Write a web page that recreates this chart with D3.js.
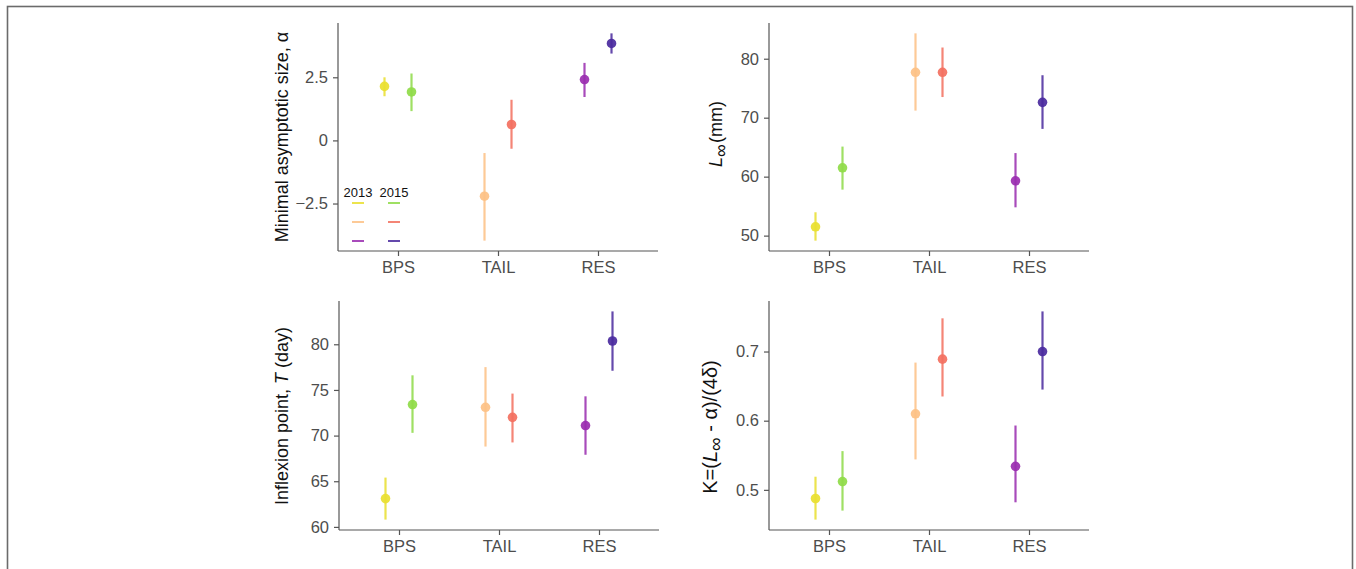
<!DOCTYPE html>
<html>
<head>
    <meta charset="utf-8">
    <title>Growth parameters by group and year</title>
    <style>
        body {
            margin: 0;
            background: #fff;
            font-family: "Liberation Sans", Arial, sans-serif;
            overflow: hidden;
        }
        .axis path, .axis line {
            stroke: #555;
            stroke-width: 1.2px;
        }
        .axis text {
            fill: #4d4d4d;
            font-size: 16.5px;
            font-family: "Liberation Sans", Arial, sans-serif;
        }
        .ylab {
            font-size: 18px;
            fill: #111;
        }
    </style>
</head>
<body>
    <script src="https://d3js.org/d3.v7.min.js"></script>
    <script>
        var width = 1356;
        var height = 569;

        // Groups on the x axis and the two sampling years
        var categories = ["BPS", "TAIL", "RES"];
        var years = ["2013", "2015"];
        // one colour per group/year, order: BPS13, BPS15, TAIL13, TAIL15, RES13, RES15
        var groupColors = ["#e9e02f", "#8fdb48", "#fdc186", "#f3705f", "#9a2cb0", "#4a2a9e"];

        // Minimal asymptotic size, alpha
        var alphaEst = [2.14, 1.92, -2.21, 0.63, 2.41, 3.84];
        var alphaLo  = [1.75, 1.16, -3.97, -0.33, 1.72, 3.44];
        var alphaHi  = [2.50, 2.65, -0.50, 1.61, 3.07, 4.24];
        var alphaTicks = [-2.5, 0, 2.5];

        // L infinity (mm)
        var linfEst = [51.5, 61.5, 77.7, 77.7, 59.3, 72.6];
        var linfLo  = [49.15, 57.8, 71.2, 73.5, 54.8, 68.1];
        var linfHi  = [53.96, 65.1, 84.3, 81.9, 64.0, 77.2];
        var linfTicks = [50, 60, 70, 80];

        // Inflexion point, T (day)
        var tEst = [63.1, 73.4, 73.1, 72.0, 71.1, 80.36];
        var tLo  = [60.8, 70.3, 68.8, 69.25, 67.9, 77.1];
        var tHi  = [65.4, 76.6, 77.5, 74.6, 74.3, 83.6];
        var tTicks = [60, 65, 70, 75, 80];

        // K = (L_inf - alpha) / (4 delta)
        var kEst = [0.4875, 0.512, 0.61, 0.689, 0.534, 0.70];
        var kLo  = [0.457, 0.470, 0.544, 0.635, 0.482, 0.645];
        var kHi  = [0.519, 0.556, 0.684, 0.748, 0.593, 0.758];
        var kTicks = [0.5, 0.6, 0.7];

        var svg = d3.select("body").append("svg")
            .attr("width", width)
            .attr("height", height);

        // outer frame of the figure
        svg.append("rect")
            .attr("x", 7.5).attr("y", 6.5)
            .attr("width", 1345).attr("height", 600)
            .attr("fill", "none")
            .attr("stroke", "#6b6b6b")
            .attr("stroke-width", 1.6);

        function buildRows(est, lo, hi) {
            var rows = [];
            categories.forEach(function(c, i) {
                years.forEach(function(y, j) {
                    var k = i * 2 + j;
                    rows.push({ cat: c, year: y, est: est[k], lo: lo[k], hi: hi[k], color: groupColors[k] });
                });
            });
            return rows;
        }

        function drawPanel(p) {
            var g = svg.append("g");
            var rows = buildRows(p.est, p.lo, p.hi);

            // ggplot style 5% expansion of the data range
            var mn = d3.min(rows, d => d.lo), mx = d3.max(rows, d => d.hi);
            var pad = (mx - mn) * 0.05;
            var y = d3.scaleLinear().domain([mn - pad, mx + pad]).range([p.y1, p.y0]);
            var x = d3.scalePoint().domain(categories).range([p.x0, p.x1]).padding(0.6);
            var dodge = d3.scalePoint().domain(years).range([-13.5, 13.5]);

            g.append("g")
                .attr("class", "axis")
                .attr("transform", "translate(0," + p.y1 + ")")
                .call(d3.axisBottom(x).tickSize(5).tickSizeOuter(0).tickPadding(5))
                .call(a => a.select(".domain").attr("d", "M" + p.x0 + ",0H" + p.x1));

            g.append("g")
                .attr("class", "axis")
                .attr("transform", "translate(" + p.x0 + ",0)")
                .call(d3.axisLeft(y).tickValues(p.ticks).tickFormat(p.fmt).tickSize(5).tickSizeOuter(0).tickPadding(5))
                .call(a => a.select(".domain").attr("d", "M0," + p.y0 + "V" + p.y1));

            var cx = d => x(d.cat) + dodge(d.year);

            g.selectAll(".err").data(rows).enter().append("line")
                .attr("class", "err")
                .attr("x1", cx).attr("x2", cx)
                .attr("y1", d => y(d.lo)).attr("y2", d => y(d.hi))
                .attr("stroke", d => d.color)
                .attr("stroke-width", 2.2)
                .attr("opacity", 0.85);

            g.selectAll(".pt").data(rows).enter().append("circle")
                .attr("class", "pt")
                .attr("cx", cx)
                .attr("cy", d => y(d.est))
                .attr("r", 4.8)
                .attr("fill", d => d.color)
                .attr("opacity", 0.92);

            var lab = g.append("text")
                .attr("class", "ylab")
                .attr("text-anchor", "middle")
                .attr("transform", "translate(" + p.labX + "," + p.labY + ") rotate(-90)");
            p.label(lab);

            return { x: x, y: y, g: g };
        }

        var top0 = 23, top1 = 251, bot0 = 301, bot1 = 530;
        var left0 = 338, left1 = 658, right0 = 769, right1 = 1089;

        var tl = drawPanel({
            x0: left0, x1: left1, y0: top0, y1: top1,
            est: alphaEst, lo: alphaLo, hi: alphaHi, ticks: alphaTicks,
            fmt: d3.format("~g"), labX: 288, labY: 137,
            label: function(t) { t.text("Minimal asymptotic size, \u03b1"); }
        });

        drawPanel({
            x0: right0, x1: right1, y0: top0, y1: top1,
            est: linfEst, lo: linfLo, hi: linfHi, ticks: linfTicks,
            fmt: d3.format("d"), labX: 722, labY: 134,
            label: function(t) {
                t.append("tspan").attr("font-style", "italic").text("L");
                t.append("tspan").attr("baseline-shift", "-28%").attr("font-size", "18px").text("\u221e");
                t.append("tspan").attr("dx", 1).text("(mm)");
            }
        });

        drawPanel({
            x0: left0 + 1, x1: left1 + 1, y0: bot0, y1: bot1,
            est: tEst, lo: tLo, hi: tHi, ticks: tTicks,
            fmt: d3.format("d"), labX: 288, labY: 416,
            label: function(t) {
                t.append("tspan").text("Inflexion point, ");
                t.append("tspan").attr("font-style", "italic").text("T");
                t.append("tspan").text(" (day)");
            }
        });

        drawPanel({
            x0: right0, x1: right1, y0: bot0, y1: bot1,
            est: kEst, lo: kLo, hi: kHi, ticks: kTicks,
            fmt: d3.format(".1f"), labX: 717, labY: 427,
            label: function(t) {
                t.style("font-size", "20px");
                t.append("tspan").text("K=(");
                t.append("tspan").attr("font-style", "italic").text("L");
                t.append("tspan").attr("baseline-shift", "-28%").attr("font-size", "19px").text("\u221e");
                t.append("tspan").text(" - \u03b1)/(4\u03b4)");
            }
        });

        // Legend inside the first panel: year columns, one short line per group
        var legend = tl.g.append("g").attr("class", "legend");
        var legX = d3.scalePoint().domain(years).range([358, 394]);
        var legY = d3.scalePoint().domain(categories).range([203, 241]);

        legend.selectAll("text").data(years).enter().append("text")
            .attr("x", d => legX(d))
            .attr("y", 197)
            .attr("text-anchor", "middle")
            .attr("font-size", "13px")
            .attr("fill", "#111")
            .text(d => d);

        var legRows = [];
        categories.forEach(function(c, i) {
            years.forEach(function(yr, j) {
                legRows.push({ cat: c, year: yr, color: groupColors[i * 2 + j] });
            });
        });

        legend.selectAll("line").data(legRows).enter().append("line")
            .attr("x1", d => legX(d.year) - 6)
            .attr("x2", d => legX(d.year) + 6)
            .attr("y1", d => legY(d.cat))
            .attr("y2", d => legY(d.cat))
            .attr("stroke", d => d.color)
            .attr("stroke-width", 2)
            .attr("opacity", 0.85);
    </script>
</body>
</html>
